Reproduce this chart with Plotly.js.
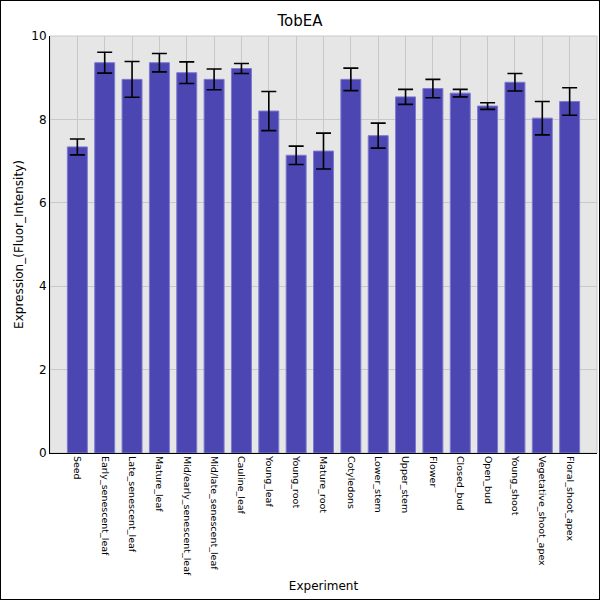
<!DOCTYPE html>
<html>
<head>
<meta charset="utf-8">
<script src="https://cdn.plot.ly/plotly-3.0.1.min.js"></script>
<style>
    body { margin: 0; background: #fff; }
    #plotDiv { width: 598px; height: 598px; border: 1px solid #000; }
</style>
</head>
<body>
<div id="plotDiv"></div>
<script>
// categories and values
const experiments = [
    'Seed', 'Early_senescent_leaf', 'Late_senescent_leaf', 'Mature_leaf',
    'Mid/early_senescent_leaf', 'Mid/late_senescent_leaf', 'Cauline_leaf',
    'Young_leaf', 'Young_root', 'Mature_root', 'Cotyledons', 'Lower_stem',
    'Upper_stem', 'Flower', 'Closed_bud', 'Open_bud', 'Young_shoot',
    'Vegetative_shoot_apex', 'Floral_shoot_apex'
];
const expression = [
    7.34, 9.36, 8.96, 9.36, 9.12, 8.96, 9.22, 8.20, 7.14, 7.24,
    8.96, 7.61, 8.54, 8.74, 8.63, 8.32, 8.89, 8.03, 8.43
];
const errors = [
    0.19, 0.25, 0.43, 0.22, 0.26, 0.25, 0.12, 0.47, 0.22, 0.43,
    0.27, 0.30, 0.18, 0.22, 0.09, 0.08, 0.21, 0.40, 0.33
];

const data = [{
    type: 'bar',
    x: experiments,
    y: expression,
    width: 0.73,
    marker: {
        color: '#4b46b2',
        line: { color: '#7d7ad0', width: 1 }
    },
    error_y: {
        type: 'data',
        array: errors,
        visible: true,
        color: '#000',
        thickness: 1.6,
        width: 7.5
    },
    hoverinfo: 'x+y'
}];

const layout = {
    width: 598,
    height: 598,
    margin: { l: 49, r: 2, t: 35, b: 146 },
    paper_bgcolor: '#fff',
    plot_bgcolor: '#e6e6e6',
    font: { family: 'DejaVu Sans, sans-serif', color: '#000' },
    title: {
        text: 'TobEA',
        font: { size: 15, family: 'DejaVu Sans, sans-serif' },
        x: 0.5,
        xanchor: 'center',
        y: 0.967,
        yanchor: 'middle'
    },
    showlegend: false,
    xaxis: {
        type: 'category',
        range: [-1, 19],
        tickangle: 90,
        tickfont: { size: 9.5 },
        showgrid: true,
        gridcolor: '#c8c8c8',
        showline: true,
        linecolor: '#000',
        linewidth: 1,
        ticks: '',
        zeroline: false,
        title: { text: 'Experiment', font: { size: 12 }, standoff: 6 }
    },
    yaxis: {
        range: [0, 10],
        dtick: 2,
        tickfont: { size: 12 },
        showgrid: true,
        gridcolor: '#c8c8c8',
        showline: true,
        linecolor: '#000',
        linewidth: 1,
        ticks: '',
        zeroline: false,
        title: { text: 'Expression_(Fluor_Intensity)', font: { size: 12 }, standoff: 5 }
    },
    shapes: [{
        type: 'rect',
        xref: 'paper',
        yref: 'paper',
        x0: 0, x1: 1, y0: 0, y1: 1,
        line: { color: '#c8c8c8', width: 1 },
        layer: 'below'
    }]
};

Plotly.newPlot('plotDiv', data, layout, { displayModeBar: false, staticPlot: true });
</script>
</body>
</html>
